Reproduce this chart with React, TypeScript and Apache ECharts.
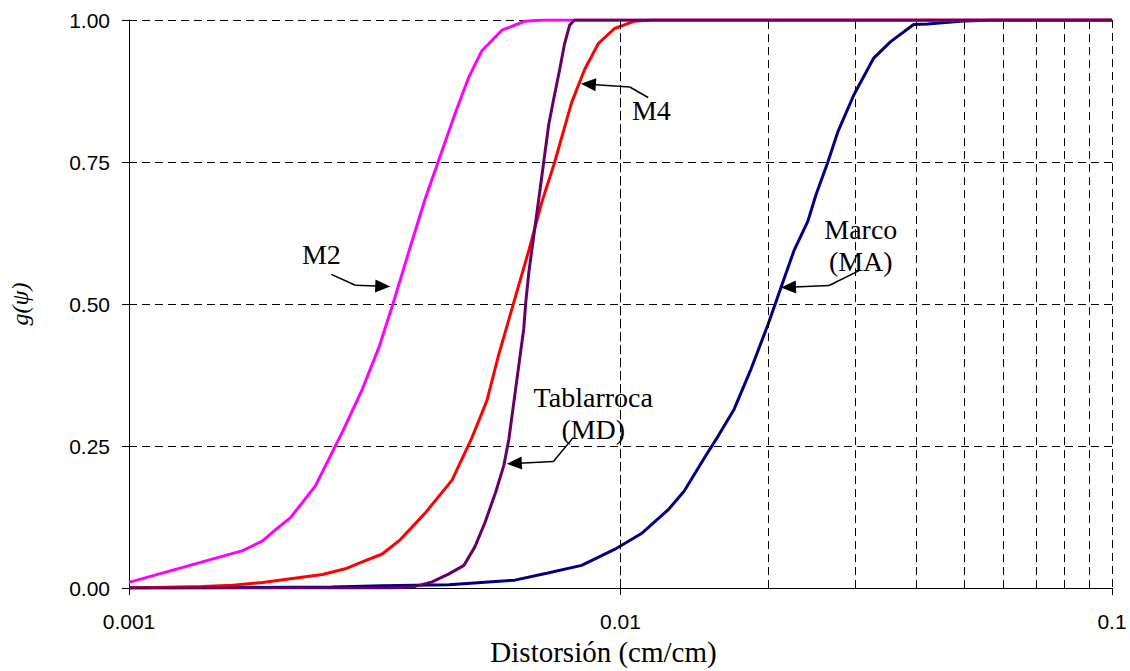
import React, { useEffect, useRef } from 'react';
import * as echarts from 'echarts';

// ---- Data (x = Distorsión cm/cm, y = g(ψ)) ----
const m2X = [0.001, 0.001703, 0.00187, 0.001987, 0.002131, 0.002395, 0.002718, 0.002983, 0.003229, 0.003432, 0.003715, 0.004004, 0.004295, 0.004606, 0.004917, 0.005225, 0.005736, 0.006388, 0.007012, 0.1];
const m2Y = [0.010, 0.066, 0.083, 0.103, 0.124, 0.180, 0.275, 0.350, 0.425, 0.496, 0.594, 0.685, 0.760, 0.835, 0.900, 0.946, 0.982, 0.998, 1.0, 1.0];

const m4X = [0.001, 0.001413, 0.001625, 0.00187, 0.002151, 0.002475, 0.002755, 0.002983, 0.003275, 0.003562, 0.004004, 0.004542, 0.004987, 0.005348, 0.005656, 0.006095, 0.006507, 0.006915, 0.007348, 0.007955, 0.008452, 0.009022, 0.009724, 0.01068, 0.01156, 0.1];
const m4Y = [0.0, 0.003, 0.005, 0.010, 0.017, 0.024, 0.034, 0.046, 0.060, 0.085, 0.132, 0.190, 0.265, 0.330, 0.412, 0.509, 0.594, 0.679, 0.750, 0.855, 0.913, 0.959, 0.985, 0.998, 1.0, 1.0];

const mdX = [0.001, 0.003432, 0.003821, 0.004137, 0.004478, 0.004803, 0.005057, 0.005298, 0.005578, 0.00579, 0.005927, 0.006067, 0.00621, 0.006357, 0.006416, 0.006507, 0.006661, 0.006819, 0.006979, 0.007145, 0.007313, 0.007521, 0.007699, 0.007881, 0.008067, 0.1];
const mdY = [0, 0, 0.003, 0.011, 0.025, 0.040, 0.073, 0.115, 0.170, 0.216, 0.262, 0.327, 0.392, 0.457, 0.503, 0.555, 0.620, 0.685, 0.750, 0.816, 0.861, 0.913, 0.959, 0.991, 1.0, 1.0];

const maX = [0.001, 0.002593, 0.003275, 0.004478, 0.006095, 0.007078, 0.008334, 0.009724, 0.01103, 0.01251, 0.01348, 0.01481, 0.01581, 0.01703, 0.01844, 0.01996, 0.02121, 0.02254, 0.02406, 0.02498, 0.02642, 0.02768, 0.02983, 0.03275, 0.03545, 0.03948, 0.04215, 0.04917, 0.05736, 0.1];
const maY = [0, 0.002, 0.004, 0.006, 0.014, 0.026, 0.040, 0.068, 0.096, 0.138, 0.171, 0.229, 0.268, 0.315, 0.386, 0.464, 0.529, 0.594, 0.646, 0.692, 0.750, 0.803, 0.868, 0.933, 0.962, 0.992, 0.993, 0.998, 1.0, 1.0];

// minor log grid lines
const minorGridX = [0.002, 0.003, 0.004, 0.005, 0.006, 0.007, 0.008, 0.009, 0.02, 0.03, 0.04, 0.05, 0.06, 0.07, 0.08, 0.09];

// annotations: label anchor, and arrow path (start, bend, arrow end) in data coords
const annLabels = ['M2', 'M4', 'Tablarroca\n(MD)', 'Marco\n(MA)'];
const annLabelX = [0.002463, 0.011559, 0.008802, 0.030821];
const annLabelY = [0.587, 0.8402, 0.3075, 0.6037];
const annStartX = [0.002581, 0.011381, 0.008018, 0.030577];
const annStartY = [0.5523, 0.8636, 0.2653, 0.5587];
const annBendX = [0.002887, 0.010444, 0.007303, 0.026579];
const annBendY = [0.5331, 0.8821, 0.2230, 0.5326];
const annEndX = [0.0032826, 0.008603, 0.006081, 0.021968];
const annEndY = [0.5314, 0.8868, 0.2195, 0.5296];

const pairs = (xs: number[], ys: number[]) => xs.map((x, i) => [x, ys[i]]);

export default function App() {
  const ref = useRef<HTMLDivElement>(null);
  useEffect(() => {
    if (!ref.current) return;
    const chart = echarts.init(ref.current, undefined, { renderer: 'svg' });
    const gridStyle = { color: '#000', width: 1, type: [8, 5] as any };
    const curve = (name: string, color: string, xs: number[], ys: number[]) => ({
      name,
      type: 'line',
      data: pairs(xs, ys),
      showSymbol: false,
      symbol: 'none',
      smooth: false,
      z: 3,
      lineStyle: { color, width: 3 },
      itemStyle: { color },
    });
    const arrowLines: any[] = [];
    annLabels.forEach((_, i) => {
      arrowLines.push([
        { coord: [annStartX[i], annStartY[i]], symbol: 'none' },
        { coord: [annBendX[i], annBendY[i]], symbol: 'none' },
      ]);
      arrowLines.push([
        { coord: [annBendX[i], annBendY[i]], symbol: 'none' },
        { coord: [annEndX[i], annEndY[i]], symbol: 'triangle', symbolSize: [13, 15] },
      ]);
    });
    chart.setOption({
      animation: false,
      grid: { left: 126, right: 18, top: 20, bottom: 77, containLabel: false },
      xAxis: {
        type: 'log',
        logBase: 10,
        min: 0.001,
        max: 0.1,
        name: 'Distorsión (cm/cm)',
        nameLocation: 'middle',
        nameGap: 44,
        nameTextStyle: {
          fontFamily: 'Liberation Serif',
          fontSize: 29,
          color: '#000',
          padding: [0, 34, 0, 0],
        },
        axisLine: { show: true, lineStyle: { color: '#000', width: 1 } },
        axisTick: { show: true, inside: false, length: 7, lineStyle: { color: '#000' } },
        axisLabel: {
          fontFamily: 'Liberation Sans',
          fontSize: 21,
          color: '#000',
          margin: 23,
          formatter: (v: number) => String(Number(v.toPrecision(3))),
        },
        splitLine: { show: true, lineStyle: gridStyle },
      },
      yAxis: {
        type: 'value',
        min: 0,
        max: 1,
        interval: 0.25,
        name: 'g(ψ)',
        nameLocation: 'middle',
        nameGap: 97,
        nameRotate: 90,
        nameTextStyle: {
          fontFamily: 'Liberation Serif',
          fontStyle: 'italic',
          fontSize: 24,
          color: '#000',
        },
        axisLine: { show: true, lineStyle: { color: '#000', width: 1 } },
        axisTick: { show: true, inside: false, length: 7, lineStyle: { color: '#000' } },
        axisLabel: {
          fontFamily: 'Liberation Sans',
          fontSize: 21,
          color: '#000',
          margin: 19,
          formatter: (v: number) => v.toFixed(2),
        },
        splitLine: { show: true, lineStyle: gridStyle },
      },
      series: [
        {
          name: 'grid',
          type: 'line',
          data: [],
          z: 1,
          silent: true,
          markLine: {
            silent: true,
            symbol: ['none', 'none'],
            label: { show: false },
            lineStyle: gridStyle,
            emphasis: { disabled: true },
            data: minorGridX.map((x) => ({ xAxis: x })),
          },
        },
        curve('Marco (MA)', '#000080', maX, maY),
        curve('M2', '#FF00FF', m2X, m2Y),
        curve('M4', '#FF0000', m4X, m4Y),
        curve('Tablarroca (MD)', '#660066', mdX, mdY),
        {
          name: 'annotations',
          type: 'line',
          data: [],
          z: 5,
          silent: true,
          markLine: {
            silent: true,
            label: { show: false },
            lineStyle: { color: '#000', width: 1.5, type: 'solid' },
            itemStyle: { color: '#000' },
            emphasis: { disabled: true },
            data: arrowLines,
          },
          markPoint: {
            silent: true,
            symbol: 'rect',
            symbolSize: 1,
            itemStyle: { color: 'rgba(0,0,0,0)' },
            label: {
              show: true,
              position: 'inside',
              formatter: '{b}',
              fontFamily: 'Liberation Serif',
              fontSize: 28,
              lineHeight: 32,
              color: '#000',
            },
            emphasis: { disabled: true },
            data: annLabels.map((n, i) => ({ name: n, coord: [annLabelX[i], annLabelY[i]] })),
          },
        },
      ],
    });
    return () => chart.dispose();
  }, []);
  return (
    <div
      ref={ref}
      style={{ position: 'fixed', left: 0, top: 0, width: 1130, height: 671, background: '#fff' }}
    />
  );
}
